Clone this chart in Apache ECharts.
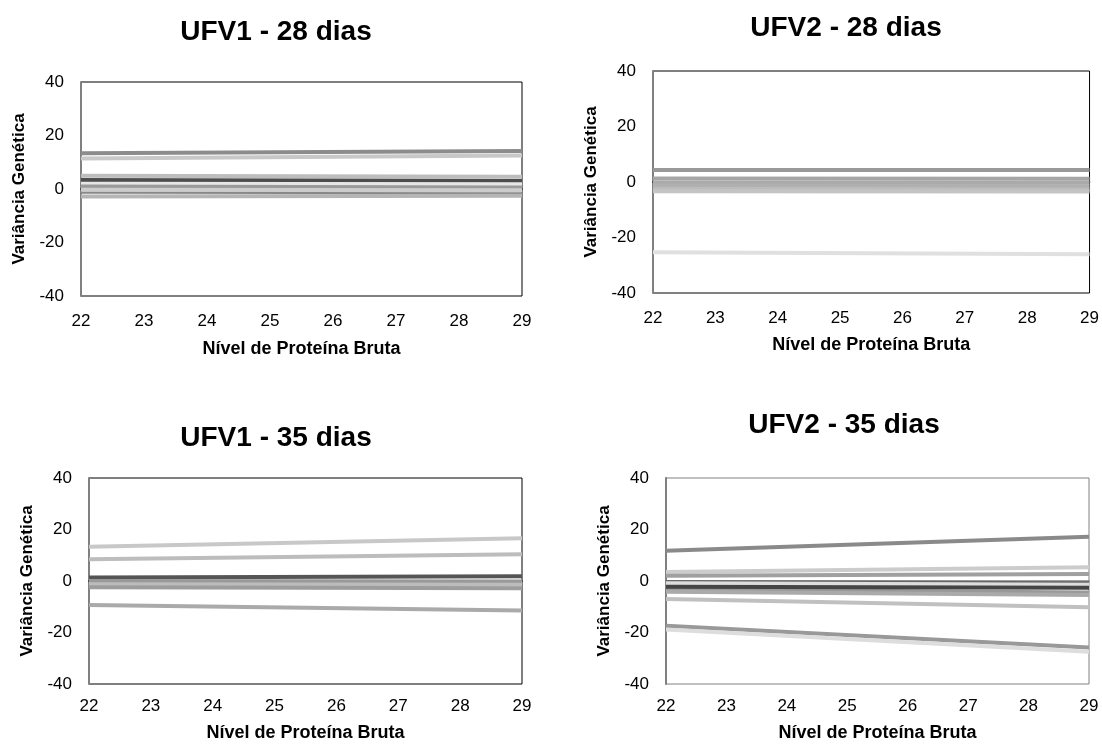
<!DOCTYPE html>
<html>
<head>
<meta charset="utf-8">
<script src="https://cdn.jsdelivr.net/npm/echarts@6/dist/echarts.min.js"></script>
<style>html,body{margin:0;padding:0;background:#fff}#c{width:1102px;height:744px}</style>
</head>
<body>
<div id="c"></div>
<script>
// ---- data ----
const xStart = 22;
const xEnd = 29;
const panelTitles = ["UFV1 - 28 dias", "UFV2 - 28 dias", "UFV1 - 35 dias", "UFV2 - 35 dias"];
const yTitle = "Variância Genética";
const xTitle = "Nível de Proteína Bruta";

// value of each line at protein level 22 and at 29
const ufv1d28Start = [13.4, 11.4, 5.0, 3.4, 2.0, 0.9, -0.3, -1.4, -2.8];
const ufv1d28End   = [14.2, 12.5, 4.6, 3.0, 1.8, 0.6, -0.5, -1.6, -2.5];

const ufv2d28Start = [4.3, 1.3, -0.2, -1.3, -2.5, -3.3, -25.3];
const ufv2d28End   = [4.3, 1.2, -0.3, -1.5, -2.7, -3.4, -26.0];

const ufv1d35Start = [13.3, 8.4, 1.4, 0.0, -1.3, -2.4, -9.3];
const ufv1d35End   = [16.6, 10.4, 1.8, -0.2, -1.5, -2.8, -11.5];

const ufv2d35Start = [11.7, 3.5, 2.0, 0.0, -0.9, -3.2, -4.2, -2.2, -7.0, -17.4, -18.8];
const ufv2d35End   = [17.2, 5.3, 2.7, -0.5, -1.5, -4.5, -5.4, -2.6, -10.2, -25.8, -27.5];

// ---- styles ----
const colors = [
  ["#8c8c8c", "#c8c8c8", "#bdbdbd", "#4d4d4d", "#e6e6e6", "#9a9a9a", "#cccccc", "#888888", "#b5b5b5"],
  ["#999999", "#a6a6a6", "#aaaaaa", "#b0b0b0", "#bcbcbc", "#c4c4c4", "#e0e0e0"],
  ["#c8c8c8", "#bdbdbd", "#555555", "#999999", "#bcbcbc", "#9d9d9d", "#aaaaaa"],
  ["#8a8a8a", "#cccccc", "#a0a0a0", "#666666", "#dddddd", "#999999", "#aaaaaa", "#444444", "#c0c0c0", "#999999", "#dddddd"]
];
const widths = [
  [4, 4, 4, 4, 4, 4, 4, 2, 4],
  [4, 4, 4, 4, 4, 4, 4],
  [4, 4, 4, 4, 4, 4, 4],
  [4, 4, 4, 2, 4, 4, 4, 4, 4, 4, 4]
];

const starts = [ufv1d28Start, ufv2d28Start, ufv1d35Start, ufv2d35Start];
const ends = [ufv1d28End, ufv2d28End, ufv1d35End, ufv2d35End];

const grids = [
  {left: 81, top: 82, width: 441, height: 214},
  {left: 653, top: 71, width: 438, height: 222},
  {left: 89, top: 478, width: 433, height: 206},
  {left: 666, top: 478, width: 423, height: 206}
];
const borderCols = ["#000", "#000", "#000", "#808080"];
const titlePos = [[276, 18], [846, 14], [276, 424], [844, 411]];
const xLabelMargin = [17, 17, 14, 14];
const xNameGap = [44, 43, 40, 40];
const FONT = "Liberation Sans, Arial, sans-serif";

const option = {
  animation: false,
  backgroundColor: "#fff",
  title: panelTitles.map((t, i) => ({
    text: t, left: titlePos[i][0], top: titlePos[i][1], textAlign: "center",
    padding: 0,
    textStyle: {fontFamily: FONT, fontSize: 28, fontWeight: "bold", color: "#000"}
  })),
  grid: grids.map((g, i) => Object.assign({show: true, borderColor: borderCols[i], borderWidth: 1, containLabel: false}, g)),
  xAxis: grids.map((g, i) => ({
    type: "value", gridIndex: i, min: xStart, max: xEnd, interval: 1,
    name: xTitle, nameLocation: "middle", nameGap: xNameGap[i],
    nameTextStyle: {fontFamily: FONT, fontSize: 18, fontWeight: "bold", color: "#000", verticalAlign: "top"},
    axisLine: {show: true, lineStyle: {color: borderCols[i], width: 1.5}},
    axisTick: {show: false}, splitLine: {show: false},
    axisLabel: {fontFamily: FONT, fontSize: 17, color: "#000", margin: xLabelMargin[i]}
  })),
  yAxis: grids.map((g, i) => ({
    type: "value", gridIndex: i, min: -40, max: 40, interval: 20,
    name: yTitle, nameLocation: "middle", nameGap: 53,
    nameTextStyle: {fontFamily: FONT, fontSize: 17, fontWeight: "bold", color: "#000"},
    axisLine: {show: true, lineStyle: {color: "#808080", width: 2}},
    axisTick: {show: false}, splitLine: {show: false},
    axisLabel: {fontFamily: FONT, fontSize: 17, color: "#000", margin: 17}
  })),
  series: []
};

for (let p = 0; p < 4; p++) {
  for (let k = 0; k < starts[p].length; k++) {
    option.series.push({
      type: "line", xAxisIndex: p, yAxisIndex: p,
      data: [[xStart, starts[p][k]], [xEnd, ends[p][k]]],
      showSymbol: false, symbol: "none", silent: true,
      lineStyle: {color: colors[p][k], width: widths[p][k]},
      clip: true
    });
  }
}

const chart = echarts.init(document.getElementById("c"), null, {renderer: "canvas"});
chart.setOption(option);
</script>
</body>
</html>
